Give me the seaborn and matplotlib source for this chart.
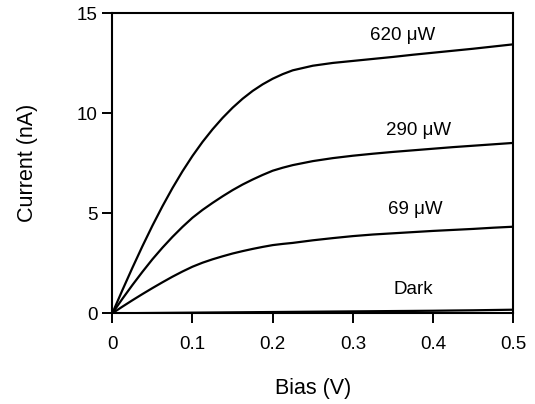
import numpy as np
import pandas as pd
import matplotlib
matplotlib.use("Agg")
import matplotlib.pyplot as plt
import seaborn as sns

bias = [0, 0.0125, 0.025, 0.0375, 0.05, 0.0625, 0.075, 0.0875, 0.1, 0.1125,
        0.125, 0.1375, 0.15, 0.1625, 0.175, 0.1875, 0.2, 0.2125, 0.225, 0.25,
        0.275, 0.3, 0.325, 0.35, 0.375, 0.4, 0.425, 0.45, 0.475, 0.5]
i_620 = [0, 1.15, 2.27, 3.35, 4.38, 5.35, 6.26, 7.1, 7.87, 8.57,
         9.2, 9.77, 10.28, 10.73, 11.12, 11.45, 11.73, 11.96, 12.15, 12.38,
         12.52, 12.62, 12.72, 12.82, 12.93, 13.03, 13.13, 13.23, 13.34, 13.45]
i_290 = [0, 0.72, 1.41, 2.07, 2.7, 3.28, 3.82, 4.32, 4.78, 5.17,
         5.52, 5.85, 6.16, 6.44, 6.69, 6.92, 7.13, 7.28, 7.41, 7.61,
         7.76, 7.88, 7.98, 8.07, 8.15, 8.23, 8.31, 8.38, 8.45, 8.52]
i_69 = [0, 0.33, 0.65, 0.96, 1.26, 1.55, 1.83, 2.09, 2.33, 2.53,
        2.7, 2.85, 2.99, 3.11, 3.22, 3.32, 3.41, 3.47, 3.52, 3.65,
        3.76, 3.86, 3.94, 4.0, 4.06, 4.12, 4.17, 4.22, 4.28, 4.33]
i_dark = [0, 0.004, 0.008, 0.012, 0.016, 0.02, 0.024, 0.028, 0.032, 0.036,
          0.04, 0.044, 0.048, 0.052, 0.056, 0.06, 0.064, 0.068, 0.072, 0.08,
          0.088, 0.096, 0.104, 0.112, 0.12, 0.128, 0.14, 0.15, 0.165, 0.18]

series_names = ["620 \u03bcW", "290 \u03bcW", "69 \u03bcW", "Dark"]
label_x = [0.3625, 0.3823, 0.3774, 0.3748]
label_y = [13.65, 8.9, 4.98, 0.98]

sns.set_style("ticks")
plt.rcParams['font.family'] = ['Liberation Sans', 'DejaVu Sans']
plt.rcParams['text.color'] = 'black'
plt.rcParams['axes.labelcolor'] = 'black'

df = pd.concat([
    pd.DataFrame({"Bias": bias, "Current": vals, "Series": name})
    for name, vals in zip(series_names, [i_620, i_290, i_69, i_dark])
])

fig = plt.figure(figsize=(5.35, 4.04), dpi=100)
ax = fig.add_axes([0.2099, 0.2245, 0.9594 - 0.2099, 0.967 - 0.2245])
sns.lineplot(data=df, x="Bias", y="Current", hue="Series", units="Series",
             estimator=None, palette=["black"] * 4, linewidth=1.6,
             legend=False, ax=ax, sort=False)

for name, lx, ly in zip(series_names, label_x, label_y):
    ax.text(lx, ly, name, ha="center", va="baseline", fontsize=13.5, color="black")

ax.set_xlim(0, 0.5)
ax.set_ylim(0, 15)
ax.set_xticks([0, 0.1, 0.2, 0.3, 0.4, 0.5])
ax.set_xticklabels(["0", "0.1", "0.2", "0.3", "0.4", "0.5"])
ax.set_yticks([0, 5, 10, 15])
ax.tick_params(axis="both", direction="out", length=7.2, width=1.4, labelsize=13.5,
               top=False, right=False, color="black", labelcolor="black")
ax.tick_params(axis="x", pad=9)
ax.tick_params(axis="y", pad=3.6)
for s in ax.spines.values():
    s.set_linewidth(1.5)
    s.set_color("black")
ax.set_xlabel("Bias (V)", fontsize=15.5)
ax.set_ylabel("Current (nA)", fontsize=15.5)
ax.xaxis.set_label_coords(0.5, (313 - 378) / 300.0)
ax.yaxis.set_label_coords((38 - 112.3) / 401.0, 0.5)

fig.savefig("out.png", dpi=100)
